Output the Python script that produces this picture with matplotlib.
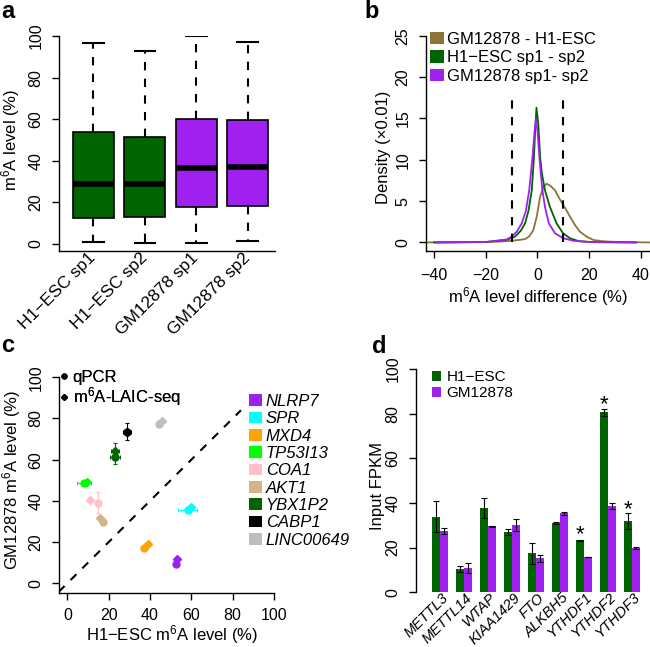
import numpy as np
import matplotlib
matplotlib.use("Agg")
import matplotlib.pyplot as plt
from matplotlib.patches import Patch
from matplotlib.lines import Line2D

plt.rcParams['font.family'] = ['Liberation Sans', 'DejaVu Sans']
plt.rcParams['mathtext.fontset'] = 'custom'
plt.rcParams['mathtext.rm'] = 'Liberation Sans'
plt.rcParams['mathtext.it'] = 'Liberation Sans:italic'
plt.rcParams['axes.linewidth'] = 1.0

GREEN = '#006400'
PURPLE = '#A020F0'
OLIVE = '#8B7536'

# === a: boxplot ===
box_labels = ['H1\u2212ESC sp1', 'H1\u2212ESC sp2', 'GM12878 sp1', 'GM12878 sp2']
box_low = [0.8, 0.5, 0.3, 1.3]
box_q1 = [12.3, 12.8, 17.6, 18.4]
box_med = [29.0, 29.0, 36.4, 37.2]
box_q3 = [54.0, 51.4, 60.0, 59.6]
box_high = [96.8, 93.0, 100.0, 97.0]
box_colors = [GREEN, GREEN, PURPLE, PURPLE]

# === b: density of differences ===
dens_names = ['GM12878 - H1-ESC', 'H1\u2212ESC sp1 - sp2', 'GM12878 sp1- sp2']
dens_colors = [OLIVE, GREEN, PURPLE]
olive_x = [-43, -30, -20, -15, -10, -7, -5, -4.2, -3, -1.6, -0.3, 1.0, 2.3, 3.5, 5.0,
           6.8, 8.5, 10.0, 11.0, 12.6, 14.5, 16.4, 19.0, 21.6, 25, 29, 35, 43.5]
olive_y = [0.0, 0.02, 0.06, 0.1, 0.2, 0.3, 0.4, 0.5, 0.8, 1.5, 3.1, 5.5, 6.7, 7.1, 6.85,
           6.3, 5.3, 4.5, 4.0, 3.1, 2.1, 1.3, 0.7, 0.3, 0.15, 0.08, 0.03, 0.0]
green_x = [-40, -20, -12, -8.7, -6.5, -4.8, -3.5, -2.2, -1.35, -0.9, -0.4, 0.3, 1.0,
           1.7, 2.9, 4.8, 7.4, 9.9, 12.6, 16, 22, 38]
green_y = [0.0, 0.05, 0.3, 0.7, 1.4, 2.3, 3.8, 6.3, 10.4, 13.5, 16.3, 14.4, 10.4,
           8.35, 6.3, 4.3, 2.3, 1.1, 0.5, 0.15, 0.03, 0.0]
purple_x = [-39, -20, -12, -10, -8, -6.1, -4.5, -3.2, -1.9, -1.2, -0.6, 0.0, 0.7,
            1.9, 2.9, 4.4, 6.8, 10.0, 14, 20, 38]
purple_y = [0.0, 0.05, 0.35, 0.7, 1.3, 2.3, 3.8, 6.3, 10.4, 13.2, 14.9, 13.5, 10.4,
            6.3, 4.3, 2.3, 1.1, 0.5, 0.2, 0.05, 0.0]
cutoffs = [-10, 10]
cutoff_top = 17.7

# === c: qPCR validation ===
genes_c = ['NLRP7', 'SPR', 'MXD4', 'TP53I13', 'COA1', 'AKT1', 'YBX1P2', 'CABP1', 'LINC00649']
genes_c_colors = ['#A020F0', '#00FFFF', '#FFA500', '#00FF00', '#FFC0CB', '#D2B48C',
                  '#006400', '#000000', '#BEBEBE']
qpcr_x = [52.6, 58.2, 37.3, 8.0, 14.8, 17.1, 23.1, 28.7, 44.2]
qpcr_y = [9.4, 35.4, 17.0, 48.8, 39.1, 29.8, 61.3, 73.6, 77.3]
qpcr_xerr = [0.5, 4.5, 1.0, 3.3, 0.5, 0.8, 2.5, 2.0, 0.5]
qpcr_yerr = [0.5, 0.8, 0.5, 0.8, 5.0, 1.0, 3.5, 4.0, 0.5]
laic_x = [53.2, 59.6, 38.9, 9.4, 11.0, 16.0, 23.1, 28.9, 45.8]
laic_y = [11.6, 37.0, 19.2, 49.0, 40.6, 31.8, 64.0, 73.2, 78.6]
laic_xerr = [0.5, 1.0, 0.8, 1.0, 1.0, 0.5, 2.0, 0.5, 0.5]
laic_yerr = [0.8, 0.8, 0.8, 0.5, 1.2, 1.0, 4.0, 0.5, 0.5]
diag_end = 84

# === d: input FPKM ===
genes_d = ['METTL3', 'METTL14', 'WTAP', 'KIAA1429', 'FTO', 'ALKBH5', 'YTHDF1', 'YTHDF2', 'YTHDF3']
h1_fpkm = [33.9, 10.3, 37.9, 27.0, 17.5, 31.2, 23.3, 80.6, 32.1]
h1_err = [7.0, 1.3, 4.5, 1.5, 4.7, 0.5, 0.3, 1.6, 3.6]
gm_fpkm = [27.6, 10.9, 29.6, 30.1, 15.2, 35.4, 15.8, 38.7, 19.9]
gm_err = [1.3, 2.1, 0.3, 2.5, 1.5, 0.6, 0.2, 1.2, 0.3]
star_idx = [6, 7, 8]
star_y = [28.2, 86.4, 39.4]

W, H = 650, 647
fig = plt.figure(figsize=(6.5, 6.47), dpi=100)


def px_axes(left, top, right, bottom):
    return fig.add_axes([left / W, 1 - bottom / H, (right - left) / W, (bottom - top) / H])


def style(ax, fs=11.5, xpad=7.8):
    ax.spines['top'].set_visible(False)
    ax.spines['right'].set_visible(False)
    ax.tick_params(direction='out', length=5, width=1, labelsize=fs)
    ax.tick_params(axis='x', pad=xpad)
    ax.tick_params(axis='y', labelrotation=90, pad=6)
    for t in ax.get_yticklabels():
        t.set_va('center')


# --- a ---
ax = px_axes(59, 36, 275, 251)
stats = []
for i in range(4):
    stats.append(dict(med=box_med[i], q1=box_q1[i], q3=box_q3[i],
                      whislo=box_low[i], whishi=box_high[i], fliers=[]))
bp = ax.bxp(stats, positions=[1, 2, 3, 4], widths=0.8, patch_artist=True,
            boxprops=dict(linewidth=1.2, edgecolor='black'),
            medianprops=dict(color='black', linewidth=4, solid_capstyle='butt'),
            whiskerprops=dict(linestyle=(0, (4, 4)), linewidth=1.5, color='black'),
            capprops=dict(linewidth=1.5, color='black'), capwidths=0.4)
for patch, c in zip(bp['boxes'], box_colors):
    patch.set_facecolor(c)
ax.set_xlim(0.33, 4.53)
ax.set_ylim(-3.4, 100)
ax.set_yticks([0, 20, 40, 60, 80, 100])
ax.set_xticks([1, 2, 3, 4])
ax.set_xticklabels([])
style(ax)
ax.tick_params(axis='x', length=0)
for i, lab in enumerate(box_labels):
    ax.text(i + 1 + 0.06, -0.035, lab, transform=ax.get_xaxis_transform(),
            rotation=45, rotation_mode='anchor', ha='right', va='baseline', fontsize=12.5)
ax.set_ylabel('m$^6$A level (%)', fontsize=12)
ax.yaxis.set_label_coords(-0.173, 0.516)

# --- b ---
ax = px_axes(426, 35.7, 650, 250.7)
ax.plot(olive_x, olive_y, color=OLIVE, lw=1.3)
ax.plot(green_x, green_y, color=GREEN, lw=1.3)
ax.plot(purple_x, purple_y, color=PURPLE, lw=1.3)
ax.vlines(cutoffs, 0, cutoff_top, colors='black', linestyles=(0, (4, 4)), lw=1.5)
ax.set_xlim(-43.1, 43.5)
ax.set_ylim(-1.0, 25)
ax.set_xticks([-40, -20, 0, 20, 40])
ax.set_yticks([0, 5, 10, 15, 20, 25])
style(ax)
ax.set_ylabel('Density (\u00d70.01)', fontsize=12)
ax.yaxis.set_label_coords(-0.158, 0.482)
ax.set_xlabel('m$^6$A level difference (%)', fontsize=12)
ax.xaxis.set_label_coords(0.5, -0.158)
hb = [Patch(facecolor=c, edgecolor='none') for c in dens_colors]
ax.legend(hb, dens_names, loc='upper left', bbox_to_anchor=(0.02, 1.017), frameon=False,
          fontsize=12, handlelength=0.8, handleheight=0.75, handletextpad=0.2,
          labelspacing=0.2, borderpad=0, borderaxespad=0)

# --- c ---
ax = px_axes(58.7, 377.3, 274, 592.7)
ax.plot([-4.2, diag_end], [-4.2, diag_end], color='black', ls=(0, (4, 4)), lw=1.5)
for i in range(len(genes_c)):
    c = genes_c_colors[i]
    ax.errorbar(qpcr_x[i], qpcr_y[i], xerr=qpcr_xerr[i], yerr=qpcr_yerr[i], fmt='o',
                color=c, ms=5, elinewidth=0.8, capsize=1.5, capthick=0.8)
    ax.errorbar(laic_x[i], laic_y[i], xerr=laic_xerr[i], yerr=laic_yerr[i], fmt='D',
                color=c, ms=4, elinewidth=0.8, capsize=1.5, capthick=0.8)
ax.set_xlim(-4.2, 100)
ax.set_ylim(-4.6, 100)
ax.set_xticks([0, 20, 40, 60, 80, 100])
ax.set_yticks([0, 20, 40, 60, 80, 100])
style(ax, xpad=6.2)
ax.set_ylabel('GM12878 m$^6$A level (%)', fontsize=12)
ax.yaxis.set_label_coords(-0.166, 0.523)
ax.set_xlabel('H1\u2212ESC m$^6$A level (%)', fontsize=12)
ax.xaxis.set_label_coords(0.528, -0.14)
hm = [Line2D([], [], marker='o', color='black', ls='none', ms=3.5),
      Line2D([], [], marker='D', color='black', ls='none', ms=3)]
leg1 = ax.legend(hm, ['qPCR', 'm$^6$A-LAIC-seq'], loc='upper left', bbox_to_anchor=(0.01, 1.035),
                 frameon=False, fontsize=12, handlelength=0.4, handletextpad=0.3,
                 labelspacing=0.05, borderpad=0, borderaxespad=0)
ax.add_artist(leg1)
hg = [Patch(facecolor=c, edgecolor='none') for c in genes_c_colors]
fig.legend(hg, genes_c, loc='upper left', bbox_to_anchor=(249 / W, 1 - 394 / H), frameon=False,
           prop=dict(style='italic', size=12), handlelength=0.8, handleheight=0.7,
           handletextpad=0.2, labelspacing=0.14, borderpad=0, borderaxespad=0)

# --- d ---
ax = px_axes(415.7, 360.1, 649, 601.2)
grp = np.arange(len(genes_d)) * 3
ax.bar(grp + 1.5, h1_fpkm, width=1, color=GREEN, yerr=h1_err,
       error_kw=dict(elinewidth=0.8, capsize=2, capthick=0.8))
ax.bar(grp + 2.5, gm_fpkm, width=1, color=PURPLE, yerr=gm_err,
       error_kw=dict(elinewidth=0.8, capsize=2, capthick=0.8))
for k, yv in zip(star_idx, star_y):
    ax.text(grp[k] + 1.5, yv - 5, '*', ha='center', va='baseline', fontsize=16)
ax.set_xlim(-1.08, 28.08)
ax.set_ylim(-4, 104)
ax.set_yticks([0, 20, 40, 60, 80, 100])
ax.set_xticks([])
style(ax)
ax.spines['bottom'].set_visible(False)
ax.spines['left'].set_bounds(0, 100)
for i, lab in enumerate(genes_d):
    ax.text(grp[i] + 2 + 0.1, 0.8, lab, rotation=45, rotation_mode='anchor',
            ha='right', va='top', fontsize=10.5, style='italic')
ax.set_ylabel('Input FPKM', fontsize=12)
ax.yaxis.set_label_coords(-0.131, 0.479)
hd = [Patch(facecolor=GREEN, edgecolor='none'), Patch(facecolor=PURPLE, edgecolor='none')]
ax.legend(hd, ['H1\u2212ESC', 'GM12878'], loc='upper left', bbox_to_anchor=(0.07, 0.957),
          frameon=False, fontsize=11, handlelength=0.6, handleheight=0.65, handletextpad=0.35,
          labelspacing=0.1, borderpad=0, borderaxespad=0)

# panel letters
for lab, x, y in [('a', 8, 12), ('b', 372, 12), ('c', 8, 345), ('d', 379, 347)]:
    fig.text(x / W, 1 - y / H, lab, fontsize=17, fontweight='bold', ha='center', va='center')

fig.savefig('out.png', dpi=100)
